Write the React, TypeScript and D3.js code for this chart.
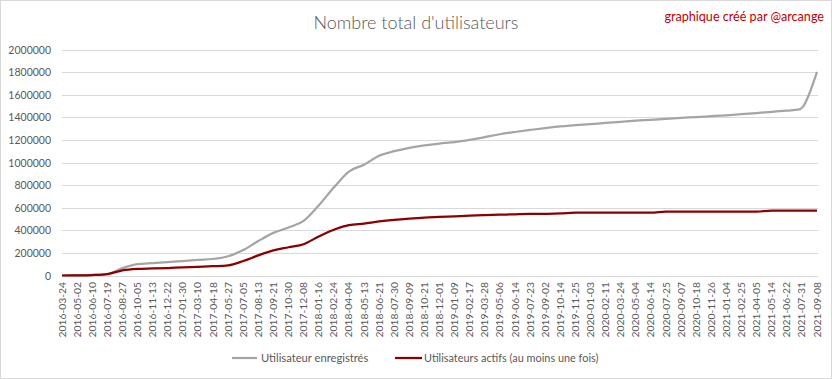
import React from "react";
import * as d3 from "d3";

const xLabels = [
  "2016-03-24","2016-05-02","2016-06-10","2016-07-19","2016-08-27","2016-10-05","2016-11-13","2016-12-22",
  "2017-01-30","2017-03-10","2017-04-18","2017-05-27","2017-07-05","2017-08-13","2017-09-21","2017-10-30","2017-12-08",
  "2018-01-16","2018-02-24","2018-04-04","2018-05-13","2018-06-21","2018-07-30","2018-09-09","2018-10-21","2018-12-01",
  "2019-01-09","2019-02-17","2019-03-28","2019-05-06","2019-06-14","2019-07-23","2019-09-02","2019-10-14","2019-11-25",
  "2020-01-03","2020-02-11","2020-03-24","2020-05-04","2020-06-14","2020-07-25","2020-09-07","2020-10-18","2020-11-26",
  "2021-01-04","2021-02-25","2021-04-05","2021-05-14","2021-06-22","2021-07-31","2021-09-08",
];

// sample positions, in label-interval units along the category axis
const samplePos = [
  0,1,2,3,4,5,6,7,8,9,10,11,12,13,14,15,16,17,18,19,20,21,22,23,24,25,26,27,28,29,30,31,32,33,34,35,36,37,38,39,40,41,42,43,44,45,46,47,48,
  48.76,49.09,49.42,49.75,50,
];

const registered = [
  0,2000,5000,12000,65000,100000,110000,118000,128000,138000,146000,170000,225000,305000,377000,425000,483000,620000,778000,920000,
  980000,1060000,1100000,1130000,1152000,1168000,1180000,1200000,1225000,1250000,1270000,1288000,1305000,1320000,1330000,1340000,
  1350000,1360000,1370000,1378000,1387000,1395000,1402000,1410000,1418000,1428000,1438000,1448000,1460000,
  1468000,1497000,1586000,1704000,1802000,
];

const active = [
  0,1000,4000,12000,45000,58000,62000,66000,72000,76000,82000,90000,128000,178000,222000,250000,277000,345000,405000,445000,
  460000,478000,492000,503000,512000,518000,524000,530000,534000,538000,542000,545000,546000,549000,557000,557000,
  557000,557000,557000,557000,566000,566000,566000,566000,566000,566000,566000,575000,575000,
  575000,575000,575000,575000,575000,
];

const yTicks = [0,200000,400000,600000,800000,1000000,1200000,1400000,1600000,1800000,2000000];

const W = 832, H = 379;
const FONT = "Lato, 'Open Sans', sans-serif";

export default function App() {
  const x = d3.scaleLinear().domain([0, xLabels.length - 1]).range([62, 817]);
  const y = d3.scaleLinear().domain([0, 2000000]).range([275.5, 49.5]);
  const mk = (vals: number[]) =>
    d3.line<number>()
      .x((_, i) => x(samplePos[i]))
      .y((v) => y(v))
      .curve(d3.curveMonotoneX)(vals) || "";

  return (
    <div style={{ position: "absolute", left: 0, top: 0 }}>
      <svg width={W} height={H} style={{ display: "block", background: "#fff" }} fontFamily={FONT}>
        <rect x={0.5} y={0.5} width={W - 1} height={H - 1} fill="#fff" stroke="#d9d9d9" />
        <text x={416} y={29} textAnchor="middle" fontSize={18} fill="#595959" fontWeight={300}>
          Nombre total d'utilisateurs
        </text>
        <text x={824} y={21} textAnchor="end" fontSize={12.6} fill="#c00000">
          graphique créé par @arcange
        </text>
        {yTicks.map((t) => (
          <g key={t}>
            <line x1={62} x2={818} y1={Math.round(y(t)) + 0.5} y2={Math.round(y(t)) + 0.5} stroke="#d9d9d9" strokeWidth={1} />
            <text x={51} y={y(t) + 4} textAnchor="end" fontSize={10.5} fill="#595959">{t}</text>
          </g>
        ))}
        {xLabels.map((l, i) => (
          <text key={l} transform={`translate(${x(i) + 3.5},282) rotate(-90)`} textAnchor="end" fontSize={10.3} fill="#595959">
            {l}
          </text>
        ))}
        <path d={mk(registered)} fill="none" stroke="#a5a5a5" strokeWidth={2.25} strokeLinejoin="round" />
        <path d={mk(active)} fill="none" stroke="#8b0000" strokeWidth={2.25} strokeLinejoin="round" />
        <line x1={232} x2={257} y1={358} y2={358} stroke="#a5a5a5" strokeWidth={2.25} />
        <text x={261} y={362} fontSize={11.2} fill="#595959">Utilisateur enregistrés</text>
        <line x1={395} x2={422} y1={358} y2={358} stroke="#8b0000" strokeWidth={2.25} />
        <text x={424} y={362} fontSize={10.9} fill="#595959">Utilisateurs actifs (au moins une fois)</text>
      </svg>
    </div>
  );
}
